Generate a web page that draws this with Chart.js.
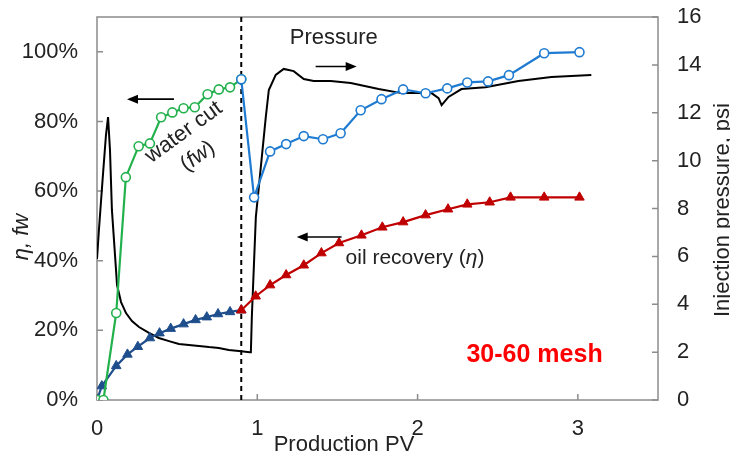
<!DOCTYPE html>
<html>
<head>
<meta charset="utf-8">
<script src="https://cdn.jsdelivr.net/npm/chart.js@4"></script>
<style>
  body { margin: 0; background: #fff; }
  canvas { display: block; }
</style>
</head>
<body>
<canvas id="myChart" width="730" height="457"></canvas>
<script>
// water cut, first stage (green circles)
const waterCutPV1 = [0, 0.04, 0.12, 0.18, 0.26, 0.33, 0.40, 0.47, 0.54, 0.61, 0.69, 0.76, 0.83, 0.90];
const waterCut1 = [0, 0, 25, 64, 72.9, 73.7, 81.2, 82.6, 83.8, 84.1, 87.8, 89.2, 89.8, 92.1];

// water cut, second stage (blue circles)
const waterCutPV2 = [0.90, 0.98, 1.08, 1.18, 1.29, 1.41, 1.52, 1.645, 1.775, 1.91, 2.05, 2.185, 2.31, 2.44, 2.57, 2.79, 3.01];
const waterCut2 = [92.1, 58.2, 71.4, 73.5, 75.8, 74.9, 76.6, 83.2, 86.4, 89.2, 88.1, 89.5, 91.2, 91.5, 93.3, 99.6, 99.9];

// oil recovery, first stage (dark blue triangles)
const oilPV1 = [0, 0.03, 0.12, 0.19, 0.255, 0.33, 0.39, 0.46, 0.54, 0.615, 0.685, 0.755, 0.83, 0.90];
const oilRec1 = [0, 4.0, 9.8, 13.1, 15.3, 17.8, 19.2, 20.5, 21.8, 23.0, 23.8, 24.7, 25.3, 25.8];

// oil recovery, second stage (red triangles)
const oilPV2 = [0.90, 0.99, 1.08, 1.18, 1.29, 1.40, 1.51, 1.65, 1.78, 1.91, 2.05, 2.19, 2.31, 2.45, 2.58, 2.79, 3.01];
const oilRec2 = [25.8, 29.8, 33.0, 35.9, 38.7, 42.2, 45.1, 47.3, 49.6, 51.1, 53.1, 54.8, 56.2, 56.8, 58.2, 58.2, 58.2];

// injection pressure (black line, psi)
const pressurePV = [0, 0.012, 0.037, 0.056, 0.069, 0.081, 0.093, 0.106, 0.125, 0.15, 0.181, 0.218, 0.262, 0.324,
  0.386, 0.449, 0.511, 0.573, 0.636, 0.698, 0.76, 0.822, 0.885, 0.953, 0.96, 0.966, 0.991, 1.022, 1.053, 1.072,
  1.115, 1.165, 1.227, 1.29, 1.352, 1.458, 1.583, 1.757, 1.90, 2.006, 2.087, 2.131, 2.15, 2.193, 2.274, 2.424,
  2.629, 2.835, 3.084];
const pressurePsi = [5.89, 7.10, 9.40, 11.07, 11.82, 10.44, 7.94, 6.68, 4.80, 4.09, 3.63, 3.30, 3.05, 2.80,
  2.59, 2.46, 2.34, 2.30, 2.26, 2.21, 2.17, 2.09, 2.05, 2.00, 2.00, 3.47, 7.64, 9.73, 11.82, 12.95,
  13.58, 13.83, 13.74, 13.41, 13.33, 13.33, 13.24, 12.99, 12.82, 12.82, 12.82, 12.61, 12.32, 12.66, 12.99, 13.07,
  13.33, 13.49, 13.58];

const xTicks = [0, 1, 2, 3];
const switchPV = 0.9;

const FONT = "'Liberation Sans', Arial, sans-serif";

function pairs(xs, ys) {
    return xs.map((x, i) => ({ x: x, y: ys[i] }));
}

// helper: text with some italic parts
function richText(ctx, parts, x, y, size, align) {
    let total = 0;
    parts.forEach(p => {
        ctx.font = (p[1] ? 'italic ' : '') + size + 'px ' + FONT;
        total += ctx.measureText(p[0]).width;
    });
    let cx = align === 'center' ? x - total / 2 : x;
    ctx.textAlign = 'left';
    parts.forEach(p => {
        ctx.font = (p[1] ? 'italic ' : '') + size + 'px ' + FONT;
        ctx.fillText(p[0], cx, y);
        cx += ctx.measureText(p[0]).width;
    });
}

function arrow(ctx, x1, y, x2) {
    // line from x1 to x2, head at x2
    const dir = x2 > x1 ? 1 : -1;
    ctx.beginPath();
    ctx.moveTo(x1, y);
    ctx.lineTo(x2 - dir * 8, y);
    ctx.stroke();
    ctx.beginPath();
    ctx.moveTo(x2, y);
    ctx.lineTo(x2 - dir * 11, y - 4.5);
    ctx.lineTo(x2 - dir * 11, y + 4.5);
    ctx.closePath();
    ctx.fill();
}

const overlay = {
    id: 'overlay',
    beforeDatasetsDraw(chart) {
        const { ctx, chartArea: a, scales } = chart;
        const x = scales.x, y = scales.y, y2 = scales.y2;
        ctx.save();
        // frame
        ctx.strokeStyle = '#8c8c8c';
        ctx.lineWidth = 1.5;
        ctx.strokeRect(a.left, a.top, a.right - a.left, a.bottom - a.top);
        // inward ticks
        ctx.beginPath();
        xTicks.forEach(v => {
            const px = x.getPixelForValue(v);
            ctx.moveTo(px, a.bottom); ctx.lineTo(px, a.bottom - 6);
        });
        y.ticks.forEach(t => {
            const py = y.getPixelForValue(t.value);
            ctx.moveTo(a.left, py); ctx.lineTo(a.left + 6, py);
        });
        y2.ticks.forEach(t => {
            const py = y2.getPixelForValue(t.value);
            ctx.moveTo(a.right, py); ctx.lineTo(a.right - 6, py);
        });
        ctx.stroke();
        // dashed line at switch point
        const sx = x.getPixelForValue(switchPV);
        ctx.strokeStyle = '#000';
        ctx.lineWidth = 2;
        ctx.setLineDash([5, 4]);
        ctx.beginPath();
        ctx.moveTo(sx, a.top); ctx.lineTo(sx, a.bottom);
        ctx.stroke();
        ctx.restore();
    },
    afterDraw(chart) {
        const { ctx, scales } = chart;
        const x = scales.x, y = scales.y;
        const P = (xv, yv) => [x.getPixelForValue(xv), y.getPixelForValue(yv)];
        ctx.save();
        ctx.fillStyle = '#222';
        ctx.strokeStyle = '#000';
        ctx.lineWidth = 1.6;
        ctx.textBaseline = 'middle';

        // axis titles
        ctx.font = '22px ' + FONT;
        ctx.textAlign = 'center';
        ctx.fillText('Production PV', 344, 445);

        ctx.save();
        ctx.translate(28, 237);
        ctx.rotate(-Math.PI / 2);
        ctx.textBaseline = 'alphabetic';
        richText(ctx, [['η, fw', true]], 0, 0, 22, 'center');
        ctx.restore();

        ctx.save();
        ctx.translate(729, 210);
        ctx.rotate(-Math.PI / 2);
        ctx.textBaseline = 'alphabetic';
        ctx.font = '22px ' + FONT;
        ctx.textAlign = 'center';
        ctx.fillText('Injection pressure, psi', 0, 0);
        ctx.restore();

        // annotations
        let p = P(1.477, 103.9);
        ctx.font = '22px ' + FONT;
        ctx.textAlign = 'center';
        ctx.fillStyle = '#222';
        ctx.fillText('Pressure', p[0], p[1]);
        ctx.fillStyle = '#000';
        let a1 = P(1.364, 95.8), a2 = P(1.62, 95.8);
        arrow(ctx, a1[0], a1[1], a2[0]);

        a1 = P(0.48, 86.4); a2 = P(0.187, 86.4);
        arrow(ctx, a1[0], a1[1], a2[0]);

        a1 = P(1.526, 46.8); a2 = P(1.246, 46.8);
        arrow(ctx, a1[0], a1[1], a2[0]);

        ctx.fillStyle = '#222';
        p = P(1.551, 40.7);
        richText(ctx, [['oil recovery (', false], ['η', true], [')', false]], p[0], p[1], 21, 'left');

        p = P(0.542, 76.9);
        ctx.save();
        ctx.translate(p[0], p[1]);
        ctx.rotate(-36 * Math.PI / 180);
        ctx.font = '22px ' + FONT;
        ctx.textAlign = 'center';
        ctx.fillText('water cut', 0, 0);
        ctx.restore();

        p = P(0.629, 70);
        ctx.save();
        ctx.translate(p[0], p[1]);
        ctx.rotate(-36 * Math.PI / 180);
        richText(ctx, [['(', false], ['fw', true], [')', false]], 0, 0, 22, 'center');
        ctx.restore();

        p = P(2.305, 12.9);
        ctx.font = 'bold 25px ' + FONT;
        ctx.textAlign = 'left';
        ctx.fillStyle = '#ff0000';
        ctx.fillText('30-60 mesh', p[0], p[1]);
        ctx.restore();
    }
};

const circle = (color) => ({
    borderColor: color, backgroundColor: color,
    pointStyle: 'circle', pointRadius: 4.5, pointBorderWidth: 1.6,
    pointBackgroundColor: '#fff', pointBorderColor: color,
    borderWidth: 2.2, showLine: true, tension: 0
});
const tri = (color) => ({
    borderColor: color, backgroundColor: color,
    pointStyle: 'triangle', pointRadius: 5.5, pointBorderWidth: 1,
    pointBackgroundColor: color, pointBorderColor: color,
    borderWidth: 2.2, showLine: true, tension: 0
});

// stop Chart.js from reserving room for overhanging tick labels
function noPad(s) {
    s.paddingTop = 0; s.paddingBottom = 0; s.paddingLeft = 0; s.paddingRight = 0;
}

new Chart(document.getElementById('myChart'), {
    type: 'scatter',
    data: {
        datasets: [
            Object.assign({ label: 'water cut 2', data: pairs(waterCutPV2, waterCut2), yAxisID: 'y', order: 0 }, circle('#1f7bd1')),
            Object.assign({ label: 'water cut 1', data: pairs(waterCutPV1, waterCut1), yAxisID: 'y', order: 1 }, circle('#22b14c')),
            Object.assign({ label: 'oil recovery 2', data: pairs(oilPV2, oilRec2), yAxisID: 'y', order: 2 }, tri('#c00000')),
            Object.assign({ label: 'oil recovery 1', data: pairs(oilPV1, oilRec1), yAxisID: 'y', order: 3 }, tri('#1f4e8c')),
            {
                label: 'Pressure', data: pairs(pressurePV, pressurePsi), yAxisID: 'y2', order: 4,
                showLine: true, borderColor: '#000', borderWidth: 2, pointRadius: 0, tension: 0
            }
        ]
    },
    options: {
        responsive: false,
        animation: false,
        layout: { padding: { top: 17, left: 0, right: 0, bottom: 0 } },
        plugins: { legend: { display: false }, tooltip: { enabled: false } },
        scales: {
            x: {
                type: 'linear', position: 'bottom', min: 0, max: 3.5,
                grid: { display: false, drawTicks: false }, border: { display: false },
                ticks: { stepSize: 1, includeBounds: false, padding: 16, color: '#222',
                    font: { family: FONT, size: 22 } },
                afterFit: s => { s.height = 57; noPad(s); }
            },
            y: {
                position: 'left', min: 0, max: 110,
                grid: { display: false, drawTicks: false }, border: { display: false },
                ticks: { stepSize: 20, includeBounds: false, padding: 19, color: '#222',
                    font: { family: FONT, size: 22 }, callback: v => v + '%' },
                afterFit: s => { s.width = 97; noPad(s); }
            },
            y2: {
                position: 'right', min: 0, max: 16,
                grid: { display: false, drawTicks: false }, border: { display: false },
                ticks: { stepSize: 2, includeBounds: false, padding: 19, color: '#222',
                    font: { family: FONT, size: 22 } },
                afterFit: s => { s.width = 72; noPad(s); }
            }
        }
    },
    plugins: [overlay]
});
</script>
</body>
</html>
